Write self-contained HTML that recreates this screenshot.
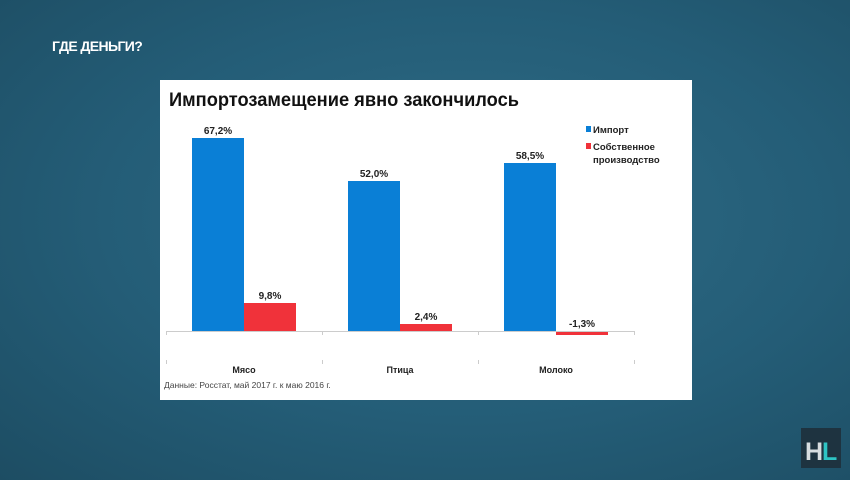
<!DOCTYPE html>
<html><head><meta charset="utf-8"><style>
html,body{margin:0;padding:0}
body{width:850px;height:480px;overflow:hidden;background:radial-gradient(ellipse at 55% 45%,#2f6c86 0%,#245d77 55%,#1d4d63 100%);font-family:"Liberation Sans",sans-serif;position:relative}
</style></head><body>
<div style="position:absolute;left:52px;top:38px;color:#fff;font-weight:bold;font-size:14px;letter-spacing:-0.6px">ГДЕ ДЕНЬГИ?</div>
<svg style="position:absolute;left:0;top:0" width="850" height="480">
<rect x="160" y="80" width="532" height="320" fill="#fff"/>
<text x="169" y="106" font-size="19" font-weight="bold" fill="#111" font-family="Liberation Sans" textLength="350" lengthAdjust="spacingAndGlyphs">Импортозамещение явно закончилось</text>
<g fill="#0a7fd6">
<rect x="192" y="138" width="52" height="193"/>
<rect x="348" y="181" width="52" height="150"/>
<rect x="504" y="163" width="52" height="168"/>
</g>
<g fill="#f0323a">
<rect x="244" y="303" width="52" height="28"/>
<rect x="400" y="324" width="52" height="7"/>
<rect x="556" y="331" width="52" height="4"/>
</g>
<line x1="166" y1="331.5" x2="634" y2="331.5" stroke="#ccc"/>
<g stroke="#ccc"><line x1="166.5" y1="331" x2="166.5" y2="335"/><line x1="322.5" y1="331" x2="322.5" y2="335"/><line x1="478.5" y1="331" x2="478.5" y2="335"/><line x1="634.5" y1="331" x2="634.5" y2="335"/>
<line x1="166.5" y1="360" x2="166.5" y2="364"/><line x1="322.5" y1="360" x2="322.5" y2="364"/><line x1="478.5" y1="360" x2="478.5" y2="364"/><line x1="634.5" y1="360" x2="634.5" y2="364"/></g>
<g font-size="10" font-weight="bold" fill="#222" text-anchor="middle" font-family="Liberation Sans">
<text x="218" y="134">67,2%</text><text x="270" y="299">9,8%</text>
<text x="374" y="177">52,0%</text><text x="426" y="320">2,4%</text>
<text x="530" y="159">58,5%</text><text x="582" y="327">-1,3%</text>
<text x="244" y="373" font-size="9">Мясо</text><text x="400" y="373" font-size="9">Птица</text><text x="556" y="373" font-size="9">Молоко</text>
</g>
<text x="164" y="388" font-size="8.5" fill="#444" font-family="Liberation Sans">Данные: Росстат, май 2017 г. к маю 2016 г.</text>
<rect x="586" y="126" width="5" height="6" fill="#0a7fd6"/>
<rect x="586" y="143" width="5" height="6" fill="#f0323a"/>
<g font-size="9.5" font-weight="bold" fill="#222" font-family="Liberation Sans">
<text x="593" y="133">Импорт</text><text x="593" y="150">Собственное</text><text x="593" y="163">производство</text>
</g>
<rect x="801" y="428" width="40" height="40" fill="#1e3340"/>
<text x="805" y="460" font-size="25" font-weight="bold" fill="#d8dde0" font-family="Liberation Sans">H</text>
<text x="822" y="460" font-size="25" font-weight="bold" fill="#2ec4c4" font-family="Liberation Sans">L</text>
</svg>
</body></html>
